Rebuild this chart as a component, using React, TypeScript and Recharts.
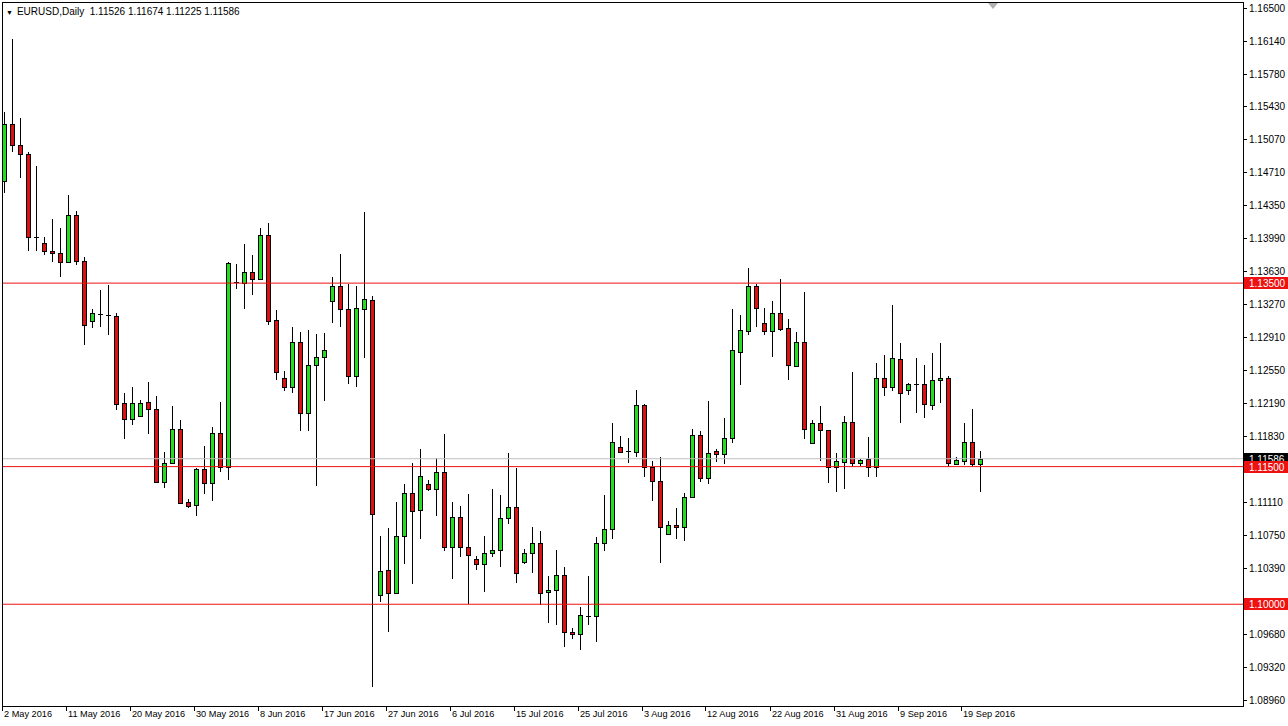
import { Bar, ComposedChart, ReferenceLine, XAxis, YAxis } from 'recharts'

// EURUSD daily, 2 May 2016 .. 21 Sep 2016 (broker has Sunday bars)
const opens = [
  1.14613, 1.15234, 1.15006, 1.14907, 1.14003, 1.13937, 1.13850, 1.13828, 1.13730, 1.14243,
  1.13741, 1.13087, 1.13163, 1.13152, 1.13142, 1.12193, 1.12019, 1.12052, 1.12204, 1.12128,
  1.11332, 1.11539, 1.11910, 1.11114, 1.11082, 1.11474, 1.11321, 1.11866, 1.11496, 1.13512,
  1.13501, 1.13621, 1.13545, 1.14025, 1.13098, 1.12465, 1.12368, 1.12858, 1.12084, 1.12608,
  1.12697, 1.13305, 1.13469, 1.13218, 1.12493, 1.13223, 1.13316, 1.10101, 1.10375, 1.10122,
  1.10744, 1.11212, 1.11027, 1.11307, 1.11256, 1.11441, 1.10624, 1.10951, 1.10624, 1.10493,
  1.10434, 1.10558, 1.10591, 1.10940, 1.11060, 1.10460, 1.10558, 1.10667, 1.10133, 1.10155,
  1.10319, 1.09697, 1.09675, 1.09877, 1.09872, 1.10667, 1.10820, 1.11709, 1.11670, 1.11659,
  1.12171, 1.11496, 1.11343, 1.10765, 1.10863, 1.10843, 1.11169, 1.11844, 1.11376, 1.11670,
  1.11637, 1.11812, 1.12749, 1.12978, 1.13469, 1.13065, 1.12978, 1.13174, 1.13011, 1.12597,
  1.12858, 1.11757, 1.11975, 1.11899, 1.11496, 1.11550, 1.11986, 1.11539, 1.11583, 1.11496,
  1.12465, 1.12368, 1.12673, 1.12335, 1.12399, 1.12404, 1.12171, 1.12443, 1.12466, 1.11528,
  1.11561, 1.11768, 1.11526
]
const highs = [
  1.15365, 1.16161, 1.15300, 1.14929, 1.14777, 1.14003, 1.14199, 1.14101, 1.14461, 1.14286,
  1.13785, 1.13218, 1.13425, 1.13479, 1.13174, 1.12302, 1.12368, 1.12226, 1.12422, 1.12270,
  1.11659, 1.12160, 1.12008, 1.11147, 1.11485, 1.11725, 1.11933, 1.12204, 1.13730, 1.13708,
  1.13926, 1.13806, 1.14101, 1.14155, 1.13207, 1.12538, 1.13022, 1.12968, 1.12989, 1.12946,
  1.12957, 1.13567, 1.13817, 1.13490, 1.13469, 1.14278, 1.13362, 1.10744, 1.10831, 1.11114,
  1.11307, 1.11539, 1.11692, 1.11354, 1.11594, 1.11855, 1.11114, 1.11071, 1.11201, 1.10526,
  1.10744, 1.11256, 1.11190, 1.11648, 1.11485, 1.10602, 1.10843, 1.10796, 1.10307, 1.10591,
  1.10406, 1.09741, 1.09970, 1.10307, 1.10733, 1.11190, 1.11975, 1.11834, 1.11812, 1.12335,
  1.12182, 1.11561, 1.11605, 1.10907, 1.11049, 1.11212, 1.11910, 1.11888, 1.12215, 1.11692,
  1.12030, 1.13218, 1.13152, 1.13665, 1.13490, 1.13229, 1.13305, 1.13545, 1.13109, 1.12968,
  1.13403, 1.12008, 1.12160, 1.11899, 1.11648, 1.12052, 1.12529, 1.11583, 1.11823, 1.12629,
  1.12717, 1.13261, 1.12847, 1.12411, 1.12684, 1.12608, 1.12738, 1.12847, 1.12493, 1.11605,
  1.11975, 1.12128, 1.11674
]
const lows = [
  1.14482, 1.14929, 1.14646, 1.13850, 1.13850, 1.13806, 1.13730, 1.13567, 1.13719, 1.13697,
  1.12826, 1.13011, 1.13022, 1.12934, 1.12117, 1.11801, 1.11953, 1.12041, 1.11855, 1.11321,
  1.11267, 1.11528, 1.11092, 1.11049, 1.10962, 1.11201, 1.11125, 1.11441, 1.11354, 1.13436,
  1.13223, 1.13371, 1.13534, 1.13044, 1.12443, 1.12324, 1.12302, 1.11888, 1.11888, 1.11289,
  1.12215, 1.13065, 1.13022, 1.12404, 1.12368, 1.12684, 1.09098, 1.10024, 1.09697, 1.10111,
  1.10437, 1.10220, 1.10711, 1.11234, 1.10962, 1.10580, 1.10275, 1.10515, 1.10002, 1.10375,
  1.10133, 1.10515, 1.10406, 1.10874, 1.10231, 1.10434, 1.10342, 1.09991, 1.09795, 1.09774,
  1.09534, 1.09621, 1.09501, 1.09774, 1.09588, 1.10580, 1.10711, 1.11648, 1.11539, 1.11605,
  1.11387, 1.11125, 1.10449, 1.10755, 1.10711, 1.10689, 1.11158, 1.11332, 1.11310, 1.11550,
  1.11528, 1.11757, 1.12390, 1.12934, 1.13022, 1.12934, 1.12697, 1.12978, 1.12443, 1.12586,
  1.11801, 1.11757, 1.11561, 1.11321, 1.11223, 1.11256, 1.11496, 1.11507, 1.11387, 1.11387,
  1.12270, 1.12324, 1.11975, 1.12281, 1.12084, 1.12030, 1.12117, 1.12193, 1.11496, 1.11517,
  1.11517, 1.11496, 1.11225
]
const closes = [
  1.15234, 1.15000, 1.14907, 1.14003, 1.14000, 1.13850, 1.13828, 1.13730, 1.14243, 1.13741,
  1.13044, 1.13174, 1.13152, 1.13142, 1.12182, 1.12019, 1.12193, 1.12193, 1.12128, 1.11332,
  1.11539, 1.11910, 1.11103, 1.11071, 1.11474, 1.11321, 1.11866, 1.11496, 1.13719, 1.13501,
  1.13621, 1.13545, 1.14025, 1.13087, 1.12529, 1.12368, 1.12858, 1.12084, 1.12608, 1.12697,
  1.12767, 1.13469, 1.13218, 1.12493, 1.13234, 1.13327, 1.10983, 1.10365, 1.10122, 1.10744,
  1.11212, 1.11016, 1.11398, 1.11256, 1.11441, 1.10624, 1.10951, 1.10624, 1.10537, 1.10434,
  1.10558, 1.10591, 1.10940, 1.11060, 1.10342, 1.10558, 1.10667, 1.10122, 1.10155, 1.10319,
  1.09697, 1.09675, 1.09882, 1.09870, 1.10667, 1.10820, 1.11768, 1.11659, 1.11665, 1.12171,
  1.11496, 1.11343, 1.10843, 1.10863, 1.10843, 1.11169, 1.11844, 1.11376, 1.11648, 1.11637,
  1.11812, 1.12767, 1.12989, 1.13469, 1.13229, 1.12978, 1.13174, 1.13000, 1.12608, 1.12858,
  1.11910, 1.11975, 1.11899, 1.11496, 1.11561, 1.11986, 1.11539, 1.11572, 1.11496, 1.12465,
  1.12368, 1.12684, 1.12302, 1.12404, 1.12390, 1.12182, 1.12444, 1.12466, 1.11539, 1.11572,
  1.11768, 1.11528, 1.11586
]

const dateLabels = [
  '2 May 2016', '11 May 2016', '20 May 2016', '30 May 2016', '8 Jun 2016', '17 Jun 2016',
  '27 Jun 2016', '6 Jul 2016', '15 Jul 2016', '25 Jul 2016', '3 Aug 2016', '12 Aug 2016',
  '22 Aug 2016', '31 Aug 2016', '9 Sep 2016', '19 Sep 2016'
]
const labelStep = 8

const priceTicks = [
  1.165, 1.1614, 1.1578, 1.1543, 1.1507, 1.1471, 1.1435, 1.1399, 1.1363, 1.1327, 1.1291,
  1.1255, 1.1219, 1.1183, 1.1111, 1.1075, 1.1039, 1.0968, 1.0932, 1.0896
]
const levels = [1.135, 1.115, 1.1]
const lastPrice = 1.11586
const header = 'EURUSD,Daily  1.11526 1.11674 1.11225 1.11586'

const data = opens.map((o, i) => ({
  i,
  o,
  h: highs[i],
  l: lows[i],
  c: closes[i],
  range: [lows[i], highs[i]]
}))

const W = 1288
const H = 726
const PLOT_RIGHT = 1243
const PLOT_BOTTOM = 706
const UP = '#22dd22'
const DOWN = '#dd1111'
const FONT = '"Liberation Sans", Arial, sans-serif'

function Candle(props: any) {
  const { x, y, width, height, payload } = props
  if (!payload) return null
  const { o, h, l, c } = payload
  const top = Math.min(y, y + height)
  const span = Math.abs(height)
  const k = h > l ? span / (h - l) : 0
  const py = (v: number) => top + (h - v) * k
  const cx = Math.floor(x + width / 2)
  const yo = py(o)
  const yc = py(c)
  const bTop = Math.round(Math.min(yo, yc))
  const bBot = Math.round(Math.max(yo, yc))
  return (
    <g>
      <line x1={cx + 0.5} x2={cx + 0.5} y1={Math.round(top)} y2={Math.round(top + span)} stroke="#000" strokeWidth={1} />
      {bBot - bTop < 2 ? (
        <line x1={cx - 2} x2={cx + 3} y1={bTop + 0.5} y2={bTop + 0.5} stroke="#000" strokeWidth={1} />
      ) : (
        <rect
          x={cx - 1.5}
          y={bTop + 0.5}
          width={4}
          height={bBot - bTop}
          fill={c >= o ? UP : DOWN}
          stroke="#000"
          strokeWidth={1}
        />
      )}
    </g>
  )
}

function PriceTick(props: any) {
  const { y, payload } = props
  const v = payload.value as number
  const isLevel = levels.includes(v)
  const isLast = v === lastPrice
  const yy = Math.round(y)
  if (isLevel || isLast) {
    return (
      <g>
        <rect x={PLOT_RIGHT + 1} y={yy - 6} width={44} height={12} fill={isLast ? '#000' : '#ee1111'} />
        <text x={PLOT_RIGHT + 6} y={yy + 4} fontSize={10} fontFamily={FONT} fill="#fff">
          {v.toFixed(5)}
        </text>
      </g>
    )
  }
  return (
    <g>
      <line x1={PLOT_RIGHT} x2={PLOT_RIGHT + 4} y1={yy + 0.5} y2={yy + 0.5} stroke="#000" />
      <text x={PLOT_RIGHT + 6} y={yy + 4} fontSize={10} fontFamily={FONT} fill="#000">
        {v.toFixed(5)}
      </text>
    </g>
  )
}

function DateTick(props: any) {
  const { x, payload } = props
  const label = dateLabels[Math.round(payload.value / labelStep)]
  const xx = Math.floor(x)
  return (
    <g>
      <line x1={xx - 2.5} x2={xx - 2.5} y1={PLOT_BOTTOM} y2={PLOT_BOTTOM + 5} stroke="#000" />
      <text x={xx - 1} y={PLOT_BOTTOM + 11} fontSize={9.2} fontFamily={FONT} fill="#000">
        {label}
      </text>
    </g>
  )
}

export default function App() {
  const xTicks = dateLabels.map((_, k) => k * labelStep)
  return (
    <div style={{ position: 'absolute', left: 0, top: 0, width: W, height: H, background: '#fff' }}>
      <ComposedChart
        width={W}
        height={H}
        data={data}
        margin={{ top: 3, right: 0, bottom: 0, left: 3 }}
      >
        <XAxis
          dataKey="i"
          type="number"
          domain={[-0.25, 154.75]}
          ticks={xTicks}
          interval={0}
          height={20}
          axisLine={false}
          tickLine={false}
          tick={<DateTick />}
          allowDataOverflow
        />
        <YAxis
          orientation="right"
          type="number"
          domain={[1.08891, 1.16553]}
          ticks={[...priceTicks, lastPrice, ...levels]}
          interval={0}
          width={45}
          axisLine={false}
          tickLine={false}
          tick={<PriceTick />}
          allowDataOverflow
        />
        <ReferenceLine y={lastPrice} stroke="#c0c0c0" strokeWidth={1} />
        {levels.map((lv) => (
          <ReferenceLine key={lv} y={lv} stroke="#ee1111" strokeWidth={1} />
        ))}
        <Bar dataKey="range" barSize={5} shape={<Candle />} isAnimationActive={false} />
      </ComposedChart>
      <div
        style={{
          position: 'absolute',
          left: 2,
          top: 2,
          width: 1242,
          height: 705,
          boxSizing: 'border-box',
          border: '1px solid #000',
          pointerEvents: 'none'
        }}
      />
      <div
        style={{
          position: 'absolute',
          left: 6,
          top: 6,
          fontFamily: FONT,
          fontSize: 10,
          color: '#000',
          whiteSpace: 'pre',
          lineHeight: '12px'
        }}
      >
        <span style={{ fontSize: 7, marginRight: 4 }}>▼</span>
        {header}
      </div>
      <svg style={{ position: 'absolute', left: 988, top: 3 }} width={11} height={7}>
        <polygon points="0,0 10,0 5,6" fill="#b0b0b0" />
      </svg>
    </div>
  )
}
